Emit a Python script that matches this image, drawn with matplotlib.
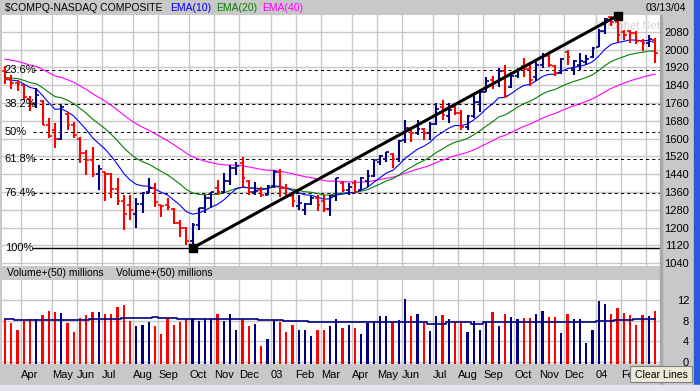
import numpy as np
import pandas as pd
import matplotlib
matplotlib.use('Agg')
import matplotlib.pyplot as plt
from matplotlib.patches import Rectangle

plt.rcParams['font.family'] = ['Liberation Sans', 'DejaVu Sans']

# weekly bars, week starting monday
start_week = '2002-03-11'
n_weeks = 105

opn = [1905, 1868, 1851, 1840, 1780, 1756, 1770, 1663, 1640, 1600,
       1710, 1661, 1600, 1535, 1504, 1440, 1450, 1440, 1373, 1319,
       1300, 1260, 1306, 1361, 1380, 1300, 1300, 1285, 1221, 1199,
       1139, 1210, 1287, 1331, 1380, 1359, 1411, 1468, 1490, 1410,
       1362, 1370, 1348, 1387, 1448, 1376, 1342, 1295, 1280, 1305,
       1335, 1320, 1285, 1340, 1400, 1369, 1400, 1370, 1410, 1434,
       1495, 1510, 1530, 1510, 1595, 1646, 1626, 1644, 1625, 1664,
       1740, 1700, 1740, 1715, 1653, 1702, 1765, 1810, 1865, 1856,
       1905, 1830, 1880, 1925, 1912, 1875, 1932, 1970, 1925, 1893,
       1990, 1915, 1930, 1945, 1967, 2012, 2086, 2145, 2124, 2080,
       2085, 2075, 2040, 2030, 2045]
high = [1926, 1885, 1865, 1842, 1790, 1827, 1773, 1693, 1670, 1751,
        1720, 1675, 1607, 1549, 1562, 1481, 1452, 1445, 1423, 1346,
        1346, 1333, 1360, 1423, 1400, 1302, 1333, 1288, 1234, 1203,
        1221, 1288, 1346, 1360, 1414, 1445, 1481, 1495, 1517, 1414,
        1405, 1382, 1391, 1460, 1463, 1395, 1360, 1346, 1311, 1340,
        1345, 1346, 1346, 1425, 1410, 1400, 1414, 1428, 1460, 1504,
        1526, 1540, 1535, 1594, 1684, 1652, 1684, 1648, 1675, 1760,
        1773, 1760, 1751, 1728, 1705, 1800, 1812, 1877, 1880, 1917,
        1931, 1899, 1917, 1962, 1944, 1944, 1985, 1985, 1931, 1962,
        1998, 1953, 1985, 1975, 2012, 2095, 2142, 2150, 2153, 2088,
        2088, 2085, 2050, 2066, 2052]
low = [1845, 1822, 1812, 1773, 1722, 1737, 1661, 1603, 1558, 1594,
       1639, 1603, 1490, 1436, 1427, 1369, 1320, 1333, 1302, 1189,
       1234, 1198, 1266, 1355, 1293, 1248, 1279, 1216, 1158, 1122,
       1108, 1189, 1266, 1288, 1346, 1355, 1391, 1436, 1382, 1346,
       1346, 1338, 1346, 1378, 1338, 1340, 1293, 1279, 1255, 1300,
       1275, 1272, 1250, 1318, 1360, 1346, 1355, 1369, 1382, 1427,
       1481, 1495, 1468, 1495, 1580, 1585, 1616, 1594, 1594, 1660,
       1684, 1670, 1706, 1639, 1639, 1693, 1720, 1809, 1825, 1832,
       1782, 1827, 1872, 1877, 1836, 1860, 1917, 1922, 1880, 1890,
       1931, 1886, 1908, 1931, 1962, 2010, 2070, 2105, 2034, 2043,
       2030, 2025, 1995, 2012, 1940]
close = [1868, 1851, 1845, 1785, 1756, 1796, 1663, 1613, 1600, 1741,
         1661, 1615, 1535, 1504, 1440, 1463, 1440, 1373, 1319, 1262,
         1280, 1306, 1355, 1380, 1315, 1295, 1291, 1221, 1199, 1139,
         1210, 1287, 1331, 1360, 1359, 1411, 1468, 1479, 1422, 1362,
         1363, 1348, 1387, 1448, 1376, 1342, 1320, 1310, 1305, 1335,
         1300, 1285, 1340, 1421, 1369, 1383, 1358, 1425, 1434, 1502,
         1520, 1538, 1510, 1590, 1646, 1626, 1644, 1625, 1664, 1734,
         1708, 1730, 1715, 1653, 1702, 1765, 1810, 1858, 1856, 1905,
         1792, 1880, 1915, 1912, 1865, 1932, 1970, 1930, 1893, 1960,
         1969, 1949, 1951, 1960, 2006, 2086, 2140, 2124, 2066, 2064,
         2073, 2037, 2029, 2047, 1985]

volume = [8.26, 7.48, 6.18, 8.0, 8.32, 8.32, 9.1, 9.88, 9.75, 9.43,
          7.48, 5.73, 8.45, 9.1, 9.75, 9.75, 9.3, 9.3, 10.66, 11.05,
          7.93, 6.96, 7.15, 7.74, 6.96, 5.4, 8.45, 7.15, 7.74, 8.26,
          8.45, 7.93, 8.26, 8.26, 9.3, 7.93, 9.3, 6.18, 8.26, 6.96,
          7.28, 3.06, 4.42, 8.06, 7.74, 5.79, 7.15, 6.18, 6.18, 5.01,
          6.18, 6.18, 6.96, 8.32, 6.63, 7.15, 6.5, 5.4, 7.48, 7.8,
          8.9, 8.9, 7.93, 8.1, 12.2, 8.9, 9.2, 7.67, 5.98, 8.9,
          9.1, 8.3, 7.67, 7.93, 5.7, 7.93, 6.2, 7.67, 9.6, 6.96,
          9.3, 8.7, 8.3, 8.5, 8.5, 9.3, 9.95, 8.7, 8.7, 5.6,
          9.3, 8.3, 8.3, 3.7, 6.2, 11.8, 11.25, 9.3, 10.5, 9.5,
          9.1, 7.15, 9.1, 8.9, 9.9]
vol_avg = [8.26, 8.26, 8.06, 8.06, 8.06, 8.06, 8.06, 8.06, 8.06, 8.06,
           8.06, 8.06, 8.06, 8.06, 8.26, 8.26, 8.26, 8.26, 8.26, 8.45,
           8.45, 8.45, 8.45, 8.45, 8.65, 8.45, 8.45, 8.45, 8.26, 8.26,
           8.26, 8.26, 8.26, 8.26, 8.26, 8.26, 8.26, 8.26, 8.26, 8.26,
           8.26, 8.06, 8.06, 8.06, 8.06, 7.93, 7.93, 7.93, 7.93, 7.67,
           7.67, 7.67, 7.67, 7.67, 7.67, 7.67, 7.67, 7.67, 7.67, 7.67,
           7.67, 7.67, 7.67, 7.67, 7.67, 7.67, 7.67, 7.67, 7.3, 7.3,
           7.3, 7.67, 7.67, 7.67, 7.67, 7.4, 7.4, 7.67, 7.67, 7.67,
           7.67, 7.67, 7.67, 7.67, 7.67, 7.67, 7.67, 7.67, 7.67, 7.67,
           7.67, 7.67, 7.67, 7.67, 7.67, 7.93, 7.93, 7.93, 8.1, 8.1,
           8.1, 8.3, 8.3, 8.3, 8.3]

# ema values on the first bar
ema_start = {10: 1866, 20: 1875, 40: 1958}
ema_colors = {10: '#0000ff', 20: '#008000', 40: '#ff00ff'}

fib_ratios = [0.236, 0.382, 0.5, 0.618, 0.764, 1.0]
fib_labels = ['23.6%', '38.2%', '50%', '61.8%', '76.4%', '100%']

price_ticks = [1040, 1120, 1200, 1280, 1360, 1440, 1520, 1600, 1680, 1760,
               1840, 1920, 2000, 2080]
vol_ticks = [0, 4, 8, 12]

RED = '#ff0000'
NAVY = '#000080'
GRID = '#c8c8c8'
FS = 7.5
W, H = 700, 391

dates = pd.date_range(start_week, periods=n_weeks, freq='W-MON')
x = np.arange(n_weeks)
opn, high, low, close = map(np.array, (opn, high, low, close))
up = close >= opn
cols = np.where(up, NAVY, RED)


def fx(px):
    return px / W


def fy(py):
    return 1 - py / H


def ema(values, span, first):
    a = 2.0 / (span + 1)
    out = [first]
    for v in values[1:]:
        out.append(a * v + (1 - a) * out[-1])
    return np.array(out)


# month boundaries; the last one sits under the button, no label there
new_month = [i for i in range(1, n_weeks) if dates[i].month != dates[i - 1].month]
month_pos = [i - 0.5 for i in new_month]
month_lab = [dates[i].strftime('%y') if dates[i].month == 1 else dates[i].strftime('%b')
             for i in new_month]
month_lab[-1] = ''

fig = plt.figure(figsize=(7, 3.91), dpi=100, facecolor='#c8c8c8')
ax = fig.add_axes([fx(2), fy(266), fx(658), 251 / H])
axv = fig.add_axes([fx(2), fy(364), fx(658), 84 / H])

for a in (ax, axv):
    a.set_facecolor('white')
    for s in a.spines.values():
        s.set_visible(False)
    a.set_xlim(-0.48, 104.8)
    a.set_xticks(month_pos)
    a.grid(True, color=GRID, linewidth=1.0)
    a.set_axisbelow(True)
    a.tick_params(length=0)

# price panel
ax.set_ylim(1027, 2156)
ax.set_xticklabels([])
ax.yaxis.tick_right()
ax.set_yticks(price_ticks)
ax.set_yticklabels([str(t) for t in price_ticks], fontsize=FS + 0.5, ha='right')
ax.tick_params(axis='y', pad=21)

for p, c in ((ema_start[40], 40), (ema_start[20], 20), (ema_start[10], 10)):
    ax.plot(x, ema(close, c, p), color=ema_colors[c], lw=0.8, zorder=3)

ax.vlines(x, low, high, colors=cols, lw=1.5, zorder=4)
ax.hlines(opn, x - 0.45, x, colors=cols, lw=1.2, zorder=4)
ax.hlines(close, x, x + 0.45, colors=cols, lw=1.2, zorder=4)

lo_i, hi_i = int(np.argmin(low)), int(np.argmax(high))
lo, hi = low[lo_i], high[hi_i]
for r, lab in zip(fib_ratios, fib_labels):
    lvl = hi - r * (hi - lo)
    ls = '-' if r == 1.0 else (0, (3, 3))
    ax.plot([0.047, 1], [lvl, lvl], transform=ax.get_yaxis_transform(),
            color='black', lw=1.0 if r == 1.0 else 0.75, ls=ls, zorder=2)
    ax.text(0.004, lvl, lab, transform=ax.get_yaxis_transform(),
            fontsize=FS + 0.5, va='center', ha='left', zorder=5)

ax.plot([lo_i, hi_i], [lo, hi], color='black', lw=2.2, zorder=6,
        marker='s', markersize=6, clip_on=False)

ax.text(0.898, 0.955, '\u00a9Prophet.Net', transform=ax.transAxes, fontsize=8,
        color='#d4d4d4', ha='left', va='center', zorder=1)

# volume panel
axv.set_ylim(-0.45, 15.9)
axv.bar(x, np.array(volume) + 0.45, bottom=-0.45, width=0.36, color=cols, zorder=3)
axv.plot(x, vol_avg, color=NAVY, lw=1.2, drawstyle='steps-mid', zorder=4)
axv.yaxis.tick_right()
axv.set_yticks(vol_ticks)
axv.set_yticklabels([str(t) for t in vol_ticks], fontsize=FS + 0.5, ha='right')
axv.tick_params(axis='y', pad=21)
axv.set_xticklabels(month_lab, fontsize=FS + 0.5, ha='left')
axv.tick_params(axis='x', pad=4)

# header texts
fig.text(fx(5), fy(8), '$COMPQ-NASDAQ COMPOSITE', fontsize=FS, va='center')
fig.text(fx(170), fy(8), 'EMA(10)', fontsize=FS, va='center', color='#0000ff')
fig.text(fx(216), fy(8), 'EMA(20)', fontsize=FS, va='center', color='#008000')
fig.text(fx(262), fy(8), 'EMA(40)', fontsize=FS, va='center', color='#ff00ff')
fig.text(fx(646), fy(8), '03/13/04', fontsize=FS, va='center')
fig.text(fx(7), fy(273.5), 'Volume+(50) millions', fontsize=FS, va='center')
fig.text(fx(116), fy(273.5), 'Volume+(50) millions', fontsize=FS, va='center')

# frame bits
fig.patches.append(Rectangle((fx(660), fy(384)), fx(2), 369 / H, transform=fig.transFigure,
                             color='#a8a8a8', zorder=0))
fig.patches.append(Rectangle((fx(694), 0), fx(6), 1, transform=fig.transFigure,
                             color='#2a5ad8', zorder=0))
fig.patches.append(Rectangle((0, 0), 1, 6 / H, transform=fig.transFigure,
                             color='#e4e4f0', zorder=0))
fig.patches.append(Rectangle((fx(630), fy(382)), fx(62), 16 / H, transform=fig.transFigure,
                             facecolor='#ece9d8', edgecolor='#808080', lw=0.8, zorder=10))
fig.text(fx(661), fy(374.5), 'Clear Lines', fontsize=FS, ha='center', va='center', zorder=11)

fig.savefig('out.png', dpi=100, facecolor=fig.get_facecolor())
